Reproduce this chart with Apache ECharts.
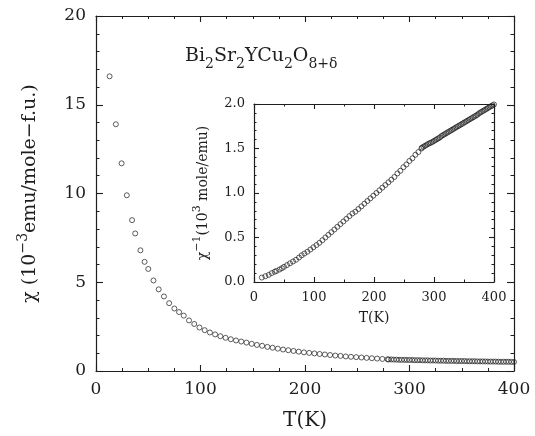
<!DOCTYPE html>
<html>
<head>
<meta charset="utf-8">
<script src="https://cdn.jsdelivr.net/npm/echarts@6/dist/echarts.min.js"></script>
<style>
  html, body { margin: 0; background: #fff; }
  #chart { width: 535px; height: 436px; }
</style>
</head>
<body>
<div id="chart"></div>
<script>
// temperatures (K) below ~280 K, roughly every 5 K
var tempLow = [13, 19, 24.5, 29.5, 34.5, 37.5, 42.5, 46.5, 50, 55,
  60, 65, 70, 75, 79.5, 84, 89, 94, 99, 104,
  109, 114, 119, 124, 129, 134, 139, 144, 149, 154,
  159, 164, 169, 174, 179, 184, 189, 194, 199, 204,
  209, 214, 219, 224, 229, 234, 239, 244, 249, 254,
  259, 264, 269, 274, 279];
// chi (1e-3 emu/mole-f.u.) at tempLow
var chiLow = [16.6, 13.9, 11.7, 9.9, 8.5, 7.75, 6.8, 6.15, 5.75, 5.1,
  4.6, 4.2, 3.82, 3.52, 3.32, 3.12, 2.85, 2.65, 2.45, 2.3,
  2.17, 2.06, 1.96, 1.87, 1.79, 1.72, 1.66, 1.6, 1.53, 1.47,
  1.42, 1.36, 1.31, 1.26, 1.21, 1.17, 1.13, 1.09, 1.05, 1.02,
  0.99, 0.96, 0.93, 0.9, 0.87, 0.85, 0.82, 0.8, 0.78, 0.76,
  0.74, 0.72, 0.7, 0.68, 0.66];
// inset: 1/chi (1e3 mole/emu) at tempLow
var invLow = [0.05, 0.065, 0.08, 0.1, 0.115, 0.125, 0.14, 0.155, 0.17, 0.19,
  0.21, 0.23, 0.25, 0.275, 0.3, 0.32, 0.34, 0.365, 0.39, 0.415,
  0.44, 0.47, 0.5, 0.53, 0.56, 0.59, 0.62, 0.65, 0.68, 0.71,
  0.74, 0.77, 0.79, 0.82, 0.85, 0.88, 0.91, 0.94, 0.97, 1.0,
  1.03, 1.06, 1.09, 1.12, 1.15, 1.18, 1.22, 1.25, 1.29, 1.32,
  1.36, 1.39, 1.43, 1.46, 1.5];

// dense run above 280 K
var tempHigh = [280, 282.5, 285, 287.5, 290, 292.5, 295, 297.5, 300, 302.5,
  305, 307.5, 310, 312.5, 315, 317.5, 320, 322.5, 325, 327.5,
  330, 332.5, 335, 337.5, 340, 342.5, 345, 347.5, 350, 352.5,
  355, 357.5, 360, 362.5, 365, 367.5, 370, 372.5, 375, 377.5,
  380, 382.5, 385, 387.5, 390, 392.5, 395, 397.5, 400];
var chiHigh = [0.65, 0.65, 0.64, 0.64, 0.63, 0.63, 0.63, 0.62, 0.62, 0.62,
  0.61, 0.61, 0.61, 0.6, 0.6, 0.6, 0.59, 0.59, 0.59, 0.58,
  0.58, 0.58, 0.57, 0.57, 0.57, 0.57, 0.56, 0.56, 0.56, 0.56,
  0.55, 0.55, 0.55, 0.55, 0.54, 0.54, 0.54, 0.54, 0.53, 0.53,
  0.53, 0.53, 0.52, 0.52, 0.52, 0.52, 0.52, 0.51, 0.51];
var invHigh = [1.51, 1.52, 1.53, 1.54, 1.55, 1.56, 1.565, 1.575, 1.585, 1.595,
  1.605, 1.615, 1.625, 1.64, 1.65, 1.66, 1.67, 1.68, 1.69, 1.70,
  1.71, 1.72, 1.73, 1.74, 1.75, 1.76, 1.77, 1.78, 1.79, 1.80,
  1.81, 1.82, 1.83, 1.84, 1.85, 1.86, 1.87, 1.88, 1.895, 1.905,
  1.915, 1.925, 1.935, 1.945, 1.955, 1.965, 1.975, 1.985, 1.995];

var serif = 'DejaVu Serif';
var ink = '#1e1e1e';

function pairs(xs, ys) {
  return xs.map(function (x, i) { return [x, ys[i]]; });
}

// one side of a boxed frame, ticks pointing inward
function side(grid, pos, min, max, step, minor, tick, labels, size, fmt) {
  return {
    type: 'value', gridIndex: grid, position: pos,
    min: min, max: max, interval: step,
    axisLine: { show: true, onZero: false, lineStyle: { color: ink, width: 1.2 } },
    axisTick: { show: true, inside: true, length: tick, lineStyle: { color: ink, width: 1.1 } },
    minorTick: { show: true, splitNumber: minor, length: tick / 2, lineStyle: { color: ink, width: 1 } },
    splitLine: { show: false },
    axisLabel: {
      show: labels, color: ink, fontFamily: serif, fontSize: size,
      margin: size > 14 ? 10 : 9,
      formatter: fmt
    }
  };
}

var oneDec = function (v) { return v.toFixed(1); };

var xMain = side(0, 'bottom', 0, 400, 100, 4, 6, true, 17);
xMain.name = 'T(K)';
xMain.nameLocation = 'middle';
xMain.nameGap = 40;
xMain.nameTextStyle = { color: ink, fontFamily: serif, fontSize: 20 };

var yMain = side(0, 'left', 0, 20, 5, 5, 7, true, 17);
yMain.name = '{t|χ (10}{p|−3}{t|emu/mole−f.u.)}';
yMain.nameLocation = 'middle';
yMain.nameGap = 52;
yMain.nameTextStyle = {
  color: ink,
  rich: {
    t: { fontFamily: serif, fontSize: 19, color: ink, lineHeight: 28 },
    p: { fontFamily: serif, fontSize: 14, color: ink, verticalAlign: 'top' }
  }
};

var xIn = side(1, 'bottom', 0, 400, 100, 2, 5, true, 13);
xIn.name = 'T(K)';
xIn.nameLocation = 'middle';
xIn.nameGap = 29;
xIn.nameTextStyle = { color: ink, fontFamily: serif, fontSize: 14 };

var yIn = side(1, 'left', 0, 2, 0.5, 5, 5, true, 13, oneDec);
yIn.name = '{t|χ}{p|−1}{t|(10}{p|3}{t| mole/emu)}';
yIn.nameLocation = 'middle';
yIn.nameGap = 40;
yIn.nameTextStyle = {
  color: ink,
  rich: {
    t: { fontFamily: serif, fontSize: 14, color: ink, lineHeight: 22 },
    p: { fontFamily: serif, fontSize: 11, color: ink, verticalAlign: 'top' }
  }
};

var hollow = { color: 'rgba(0,0,0,0)', borderColor: ink, borderWidth: 0.9 };

var chart = echarts.init(document.getElementById('chart'));
chart.setOption({
  animation: false,
  backgroundColor: '#fff',
  title: {
    text: '{n|Bi}{s|2}{n|Sr}{s|2}{n|YCu}{s|2}{n|O}{s|8+δ}',
    left: 180, top: 36,
    textStyle: {
      fontWeight: 'normal',
      rich: {
        n: { fontFamily: serif, fontSize: 19, fontWeight: 'normal', color: ink, lineHeight: 30 },
        s: { fontFamily: serif, fontSize: 14, fontWeight: 'normal', color: ink, verticalAlign: 'bottom' }
      }
    }
  },
  grid: [
    { left: 96, right: 21, top: 16, bottom: 64 },
    { left: 254, right: 41, top: 104, bottom: 154 }
  ],
  xAxis: [
    xMain,
    side(0, 'top', 0, 400, 100, 4, 6, false),
    xIn,
    side(1, 'top', 0, 400, 100, 2, 5, false)
  ],
  yAxis: [
    yMain,
    side(0, 'right', 0, 20, 5, 5, 7, false),
    yIn,
    side(1, 'right', 0, 2, 0.5, 5, 5, false)
  ],
  series: [
    {
      type: 'scatter', xAxisIndex: 0, yAxisIndex: 0,
      symbol: 'circle', symbolSize: 5, itemStyle: hollow,
      data: pairs(tempLow, chiLow).concat(pairs(tempHigh, chiHigh))
    },
    {
      type: 'scatter', xAxisIndex: 2, yAxisIndex: 2,
      symbol: 'circle', symbolSize: 5, itemStyle: hollow,
      data: pairs(tempLow, invLow).concat(pairs(tempHigh, invHigh))
    }
  ]
});
</script>
</body>
</html>
